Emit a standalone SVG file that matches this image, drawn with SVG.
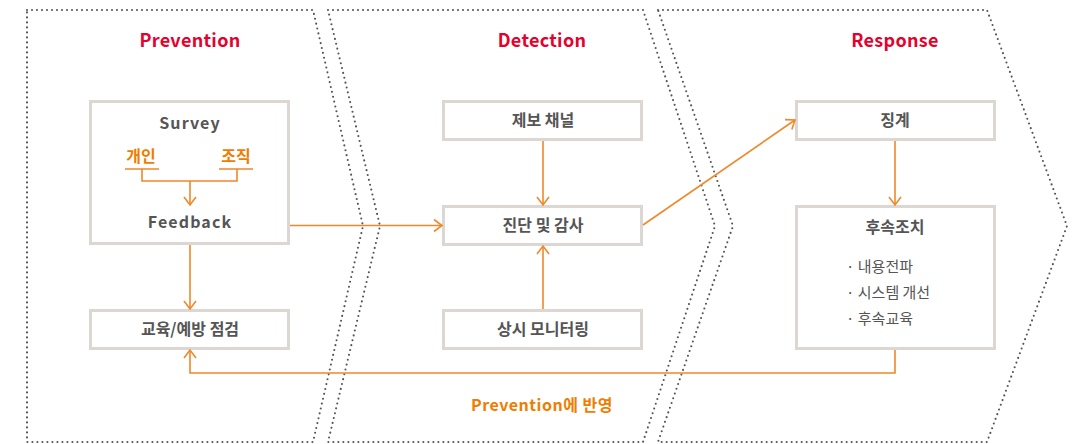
<svg xmlns="http://www.w3.org/2000/svg" width="1085" height="444" viewBox="0 0 1085 444">
  <defs>
    <style>
      .stage { fill: none; stroke: #555555; stroke-width: 2.1; stroke-dasharray: 0 5; stroke-linecap: round; stroke-linejoin: round; }
      .title { font-family: "Noto Sans CJK KR", "Noto Sans", sans-serif; font-weight: 700; font-size: 18px; letter-spacing: 0.3px; fill: #e5002d; text-anchor: middle; }
      .box { fill: #ffffff; stroke: #dcd7d2; stroke-width: 3; }
      .label { font-family: "Noto Sans CJK KR", "Noto Sans", sans-serif; font-weight: 700; font-size: 16px; fill: #555555; text-anchor: middle; }
      .latin { letter-spacing: 1.1px; }
      .item { font-family: "Noto Sans CJK KR", "Noto Sans", sans-serif; font-weight: 400; font-size: 15px; fill: #555555; }
      .accent { font-family: "Noto Sans CJK KR", "Noto Sans", sans-serif; font-weight: 700; font-size: 16px; fill: #ef7d00; text-anchor: middle; }
      .link { fill: none; stroke: #f0882a; stroke-width: 1.6; }
    </style>
    <marker id="chev" viewBox="-10 -8 12 16" refX="0" refY="0" markerWidth="12" markerHeight="16" markerUnits="userSpaceOnUse" orient="auto">
      <polyline points="-8,-6 0,0 -8,6" fill="none" stroke="#f0882a" stroke-width="1.6"/>
    </marker>
  </defs>

  <!-- stage outlines -->
  <g id="stage-prevention">
    <polygon class="stage" points="27,10 313,10 363,226 313,442 27,442"/>
    <text class="title" x="190" y="47">Prevention</text>
  </g>
  <g id="stage-detection">
    <polygon class="stage" points="328,10 643,10 715,226 643,442 328,442 380,226"/>
    <text class="title" x="542" y="47">Detection</text>
  </g>
  <g id="stage-response">
    <polygon class="stage" points="658,10 987,10 1067,226 987,442 658,442 733,226"/>
    <text class="title" x="895" y="47">Response</text>
  </g>

  <!-- Prevention nodes -->
  <g id="survey">
    <rect class="box" x="90.5" y="101.5" width="198" height="142"/>
    <text class="label latin" x="190" y="129">Survey</text>
    <text class="accent" x="141" y="162">개인</text>
    <text class="accent" x="236" y="162">조직</text>
    <path class="link" d="M125,169 H159 M219,169 H253 M142,169 V181 H237 V169"/>
    <line class="link" x1="190" y1="181" x2="190" y2="205" marker-end="url(#chev)"/>
    <text class="label latin" x="190" y="228">Feedback</text>
  </g>
  <g id="education">
    <rect class="box" x="90.5" y="310.5" width="198" height="38"/>
    <text class="label" x="190" y="335">교육/예방 점검</text>
  </g>

  <!-- Detection nodes -->
  <g id="report-channel">
    <rect class="box" x="443.5" y="101.5" width="198" height="38"/>
    <text class="label" x="543" y="126">제보 채널</text>
  </g>
  <g id="audit">
    <rect class="box" x="443.5" y="206.5" width="198" height="38"/>
    <text class="label" x="543" y="231">진단 및 감사</text>
  </g>
  <g id="monitoring">
    <rect class="box" x="443.5" y="310.5" width="198" height="38"/>
    <text class="label" x="543" y="335">상시 모니터링</text>
  </g>

  <!-- Response nodes -->
  <g id="discipline">
    <rect class="box" x="796.5" y="101.5" width="198" height="38"/>
    <text class="label" x="895" y="126">징계</text>
  </g>
  <g id="follow-up">
    <rect class="box" x="796.5" y="206.5" width="198" height="142"/>
    <text class="label" x="895" y="233">후속조치</text>
    <text class="item" x="846" y="272">· 내용전파</text>
    <text class="item" x="846" y="298">· 시스템 개선</text>
    <text class="item" x="846" y="324">· 후속교육</text>
  </g>

  <!-- connectors -->
  <g id="connectors">
    <line class="link" x1="190" y1="245" x2="190" y2="309" marker-end="url(#chev)"/>
    <line class="link" x1="290" y1="225.5" x2="442" y2="225.5" marker-end="url(#chev)"/>
    <line class="link" x1="543" y1="141" x2="543" y2="205" marker-end="url(#chev)"/>
    <line class="link" x1="543" y1="309" x2="543" y2="246" marker-end="url(#chev)"/>
    <line class="link" x1="643" y1="225" x2="795" y2="120" marker-end="url(#chev)"/>
    <line class="link" x1="895" y1="141" x2="895" y2="205" marker-end="url(#chev)"/>
    <polyline class="link" points="895,350 895,373 190,373 190,350" marker-end="url(#chev)"/>
    <text class="accent" x="542" y="411" style="letter-spacing:0.5px">Prevention에 반영</text>
  </g>
</svg>
